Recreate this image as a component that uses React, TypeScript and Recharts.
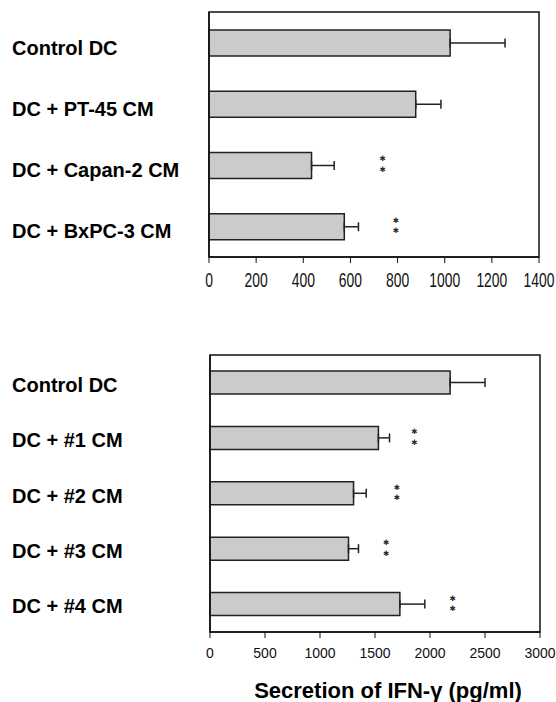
import {
  Bar,
  BarChart,
  ErrorBar,
  ReferenceArea,
  ReferenceDot,
  XAxis,
  YAxis,
} from 'recharts';

// top panel: cell line conditioned media
const topGroups = ['Control DC', 'DC + PT-45 CM', 'DC + Capan-2 CM', 'DC + BxPC-3 CM'];
const topMeans = [1023, 877, 435, 574];
const topErrors = [233, 107, 96, 60];
const topTicks = [0, 200, 400, 600, 800, 1000, 1200, 1400];
const topStars = [
  { group: 'DC + Capan-2 CM', at: 737 },
  { group: 'DC + BxPC-3 CM', at: 793 },
];

// bottom panel: patient samples
const bottomGroups = ['Control DC', 'DC + #1 CM', 'DC + #2 CM', 'DC + #3 CM', 'DC + #4 CM'];
const bottomMeans = [2183, 1531, 1305, 1259, 1726];
const bottomErrors = [317, 101, 115, 91, 227];
const bottomTicks = [0, 500, 1000, 1500, 2000, 2500, 3000];
const bottomStars = [
  { group: 'DC + #1 CM', at: 1859 },
  { group: 'DC + #2 CM', at: 1698 },
  { group: 'DC + #3 CM', at: 1601 },
  { group: 'DC + #4 CM', at: 2207 },
];

const xTitle = 'Secretion of IFN-γ (pg/ml)';

const BAR_FILL = '#cbcbcb';
const BAR_STROKE = '#222';
const SANS = 'Arial, "Liberation Sans", Helvetica, sans-serif';

function build(groups: string[], means: number[], errors: number[]) {
  return groups.map((name, i) => ({ name, value: means[i], err: [0, errors[i]] }));
}

function GroupTick({ x0, dy }: { x0: number; dy: number }) {
  return (props: any) => (
    <text
      x={x0}
      y={props.y}
      dy={dy}
      textAnchor="start"
      fontFamily={SANS}
      fontWeight="bold"
      fontSize={20}
      fill="#000"
    >
      {props.payload.value}
    </text>
  );
}

// the top axis uses tall condensed digits
function NarrowTick(props: any) {
  const { x, y, payload } = props;
  return (
    <g transform={`translate(${x},${y})`}>
      <text
        transform="scale(1,1.4)"
        y={17.5}
        textAnchor="middle"
        fontFamily='"Liberation Sans Narrow", "Arial Narrow", sans-serif'
        fontSize={13.9}
        fill="#111"
      >
        {payload.value}
      </text>
    </g>
  );
}

function PlainTick(props: any) {
  const { x, y, payload } = props;
  return (
    <text x={x} y={y + 20} textAnchor="middle" fontFamily={SANS} fontSize={14} fill="#111">
      {payload.value}
    </text>
  );
}

function Stars(props: any) {
  const { cx, cy } = props;
  const style = {
    fontFamily: '"DejaVu Sans", sans-serif',
    fontSize: 7.5,
    fill: '#2a2a2a',
  };
  return (
    <g>
      <text x={cx} y={cy - 3.8} textAnchor="middle" style={style}>✱</text>
      <text x={cx} y={cy + 6.7} textAnchor="middle" style={style}>✱</text>
    </g>
  );
}

function Panel({
  data,
  ticks,
  stars,
  width,
  height,
  margin,
  barSize,
  labelX,
  labelDy,
  axisHeight,
  tick,
  title,
}: {
  data: { name: string; value: number; err: number[] }[];
  ticks: number[];
  stars: { group: string; at: number }[];
  width: number;
  height: number;
  margin: { top: number; right: number; bottom: number; left: number };
  barSize: number;
  labelX: number;
  labelDy: number;
  axisHeight: number;
  tick: any;
  title?: string;
}) {
  const max = ticks[ticks.length - 1];
  return (
    <BarChart layout="vertical" width={width} height={height} data={data} margin={margin}>
      <XAxis
        type="number"
        domain={[0, max]}
        ticks={ticks}
        height={axisHeight}
        tickSize={6}
        tickMargin={0}
        tick={tick}
        stroke="#111"
        axisLine={{ stroke: '#111', strokeWidth: 1.5 }}
        tickLine={{ stroke: '#111' }}
        label={
          title
            ? (p: any) => {
                const vb = p.viewBox;
                return (
                  <text
                    x={vb.x + vb.width / 2 + 13}
                    y={vb.y + 65.5}
                    textAnchor="middle"
                    fontFamily={SANS}
                    fontWeight="bold"
                    fontSize={22}
                    fill="#000"
                  >
                    {title}
                  </text>
                );
              }
            : undefined
        }
      />
      <YAxis
        type="category"
        dataKey="name"
        width={197}
        tickLine={false}
        axisLine={{ stroke: '#111', strokeWidth: 1.5 }}
        tick={GroupTick({ x0: labelX, dy: labelDy })}
      />
      <ReferenceArea x1={0} x2={max} fill="none" stroke="#111" strokeWidth={1.5} />
      <Bar
        dataKey="value"
        barSize={barSize}
        fill={BAR_FILL}
        stroke={BAR_STROKE}
        strokeWidth={1.5}
        isAnimationActive={false}
      >
        <ErrorBar
          dataKey="err"
          direction="x"
          width={4.5}
          stroke="#222"
          strokeWidth={1.5}
          isAnimationActive={false}
        />
      </Bar>
      {stars.map((s) => (
        <ReferenceDot key={s.group} x={s.at} y={s.group} r={0} shape={Stars} />
      ))}
    </BarChart>
  );
}

export default function App() {
  const top = build(topGroups, topMeans, topErrors);
  const bottom = build(bottomGroups, bottomMeans, bottomErrors);
  return (
    <div style={{ position: 'absolute', left: 0, top: 0, width: 556, height: 702, background: '#fff' }}>
      <Panel
        data={top}
        ticks={topTicks}
        stars={topStars}
        width={556}
        height={300}
        margin={{ top: 12, right: 17, bottom: 13, left: 12 }}
        barSize={26}
        labelX={12}
        labelDy={12}
        axisHeight={30}
        tick={NarrowTick}
      />
      <div style={{ position: 'absolute', left: 0, top: 340 }}>
        <Panel
          data={bottom}
          ticks={bottomTicks}
          stars={bottomStars}
          width={556}
          height={362}
          margin={{ top: 15, right: 16, bottom: 0, left: 13 }}
          barSize={23}
          labelX={12}
          labelDy={9}
          axisHeight={70}
          tick={PlainTick}
          title={xTitle}
        />
      </div>
    </div>
  );
}
